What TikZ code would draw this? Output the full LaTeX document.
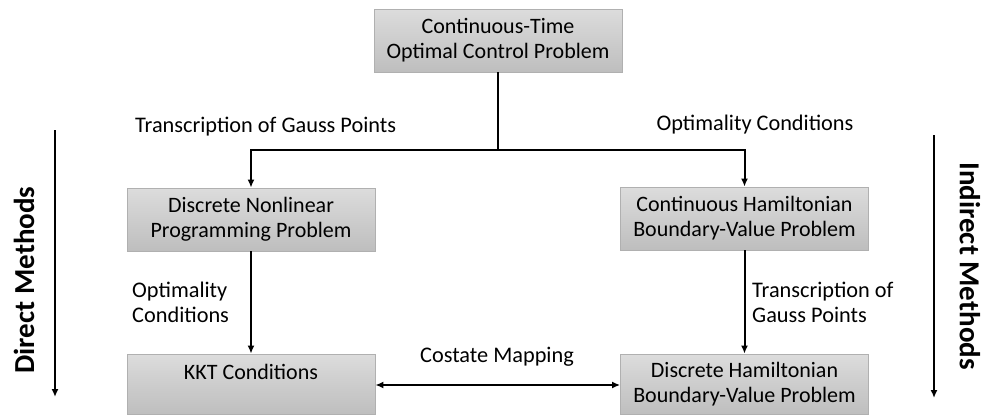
\documentclass[tikz,border=0pt]{standalone}
\usepackage{fontspec}
\setmainfont{Carlito}
\usetikzlibrary{arrows.meta}
\definecolor{boxtop}{HTML}{DCDCDC}
\definecolor{boxbot}{HTML}{BEBEBE}
\definecolor{boxline}{HTML}{B0B0B0}
\tikzset{
  pbox/.style={draw=boxline, line width=0.8pt, top color=boxtop, bottom color=boxbot,
    minimum width=248pt, minimum height=63pt, align=center, inner sep=2pt,
    font=\fontsize{22}{25}\selectfont},
  conn/.style={line width=2pt, -{Latex[length=8pt,width=7pt]}},
  lbl/.style={font=\fontsize{22.3}{25}\selectfont, inner sep=0pt},
  side/.style={font=\fontsize{29}{32}\selectfont\bfseries, inner sep=0pt},
}
\begin{document}
\begin{tikzpicture}[x=1pt,y=-1pt]
\useasboundingbox[fill=white] (0,0) rectangle (985,415);
\node[pbox] (top) at (498,40.5) {Continuous-Time\\Optimal Control Problem};
\node[pbox] (nlp) at (251,219.5) {Discrete Nonlinear\\Programming Problem};
\node[pbox] (chb) at (744.5,218.5) {Continuous Hamiltonian\\Boundary-Value Problem};
\node[pbox, minimum height=60pt] (kkt) at (251,384) {KKT Conditions\\\phantom{X}};
\node[pbox, minimum height=60pt] (dhb) at (744.5,384) {Discrete Hamiltonian\\Boundary-Value Problem};
\coordinate (j) at (498,150);
\draw[line width=2pt] (top.south) -- (j);
\draw[conn] (j) -| (nlp.north);
\draw[conn] (j) -| (chb.north);
\draw[conn] (nlp.south) -- (kkt.north);
\draw[conn] (chb.south) -- (dhb.north);
\draw[line width=2pt, {Latex[length=8pt,width=7pt]}-{Latex[length=8pt,width=7pt]}] (kkt.east |- 0,385) -- (dhb.west |- 0,385);
\node[lbl, anchor=west] (l1) at (135,127) {Transcription of Gauss Points};
\node[lbl] (l2) at (755,125) {Optimality Conditions};
\node[lbl, anchor=west, align=left] (l3) at (132,302) {Optimality\\Conditions};
\node[lbl, anchor=west, align=left] (l4) at (752,302) {Transcription of\\Gauss Points};
\node[lbl] (l5) at (497,357) {Costate Mapping};
\node[side, rotate=90] (dm) at (24,280) {Direct Methods};
\node[side, rotate=-90] (im) at (970,266) {Indirect Methods};
\coordinate (a1) at (55,130);
\coordinate (a2) at (55,397);
\coordinate (b1) at (934,135);
\coordinate (b2) at (934,398);
\draw[conn] (a1) -- (a2);
\draw[conn] (b1) -- (b2);
\end{tikzpicture}
\end{document}
